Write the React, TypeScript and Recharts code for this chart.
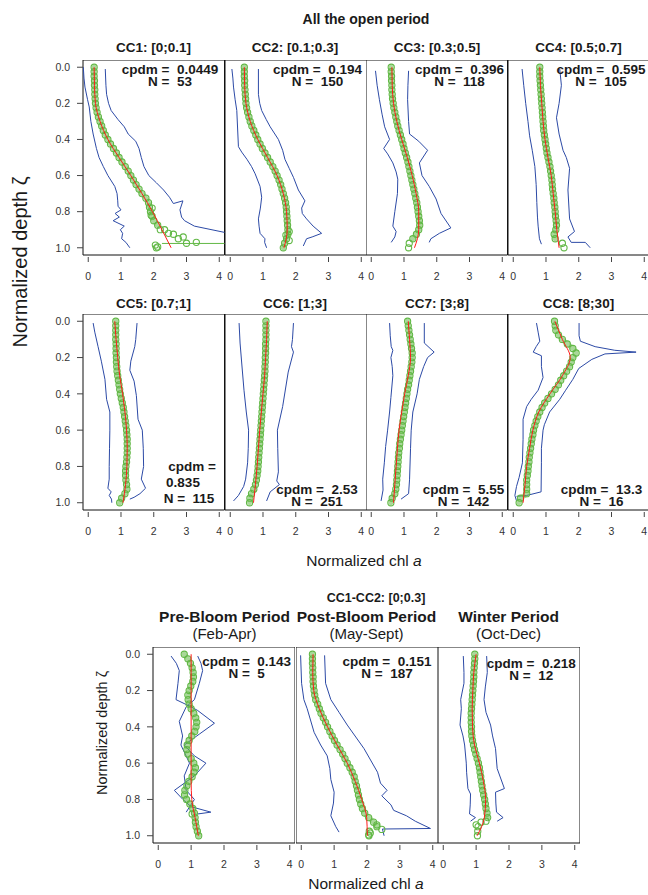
import { ScatterChart, Scatter, XAxis, YAxis, ReferenceArea } from "recharts";

const FONT = '"Liberation Sans", Arial, Helvetica, sans-serif';
const GREEN = "#62b846";
const RED = "#ff1a1a";
const BLUE = "#2c4aa6";

const X_TICKS = [0, 1, 2, 3, 4];
const Y_TICKS = [0, 0.2, 0.4, 0.6, 0.8, 1];

// depth grid of the mean profile (green circles)
const DEPTHS = [
  0, 0.025, 0.05, 0.075, 0.1, 0.125, 0.15, 0.175, 0.2, 0.225, 0.25, 0.275, 0.3, 0.325, 0.35, 0.375, 0.4, 0.425, 0.45, 0.475,
  0.5, 0.525, 0.55, 0.575, 0.6, 0.625, 0.65, 0.675, 0.7, 0.725, 0.75, 0.775, 0.8, 0.825, 0.85, 0.875, 0.9, 0.925, 0.95, 0.975, 1,
];
// depth grid of the fitted curve (red)
const FIT_DEPTHS = [0, 0.1, 0.2, 0.3, 0.4, 0.5, 0.6, 0.7, 0.8, 0.9, 1];

// ---- CC1
const cc1Green = [0.18, 0.18, 0.18, 0.19, 0.19, 0.2, 0.2, 0.21, 0.22, 0.24, 0.27, 0.31, 0.36, 0.41, 0.46, 0.52, 0.6, 0.68, 0.77, 0.86, 0.94, 1.03, 1.13, 1.22, 1.3, 1.38, 1.46, 1.55, 1.64, 1.76, 1.84, 1.87, 1.9, 1.95, 2.0, 2.12, 2.33, 2.6, 2.75, 3.0, 2.08];
const cc1Extra = [[3.3, 0.97], [2.05, 0.985], [2.12, 0.995], [2.9, 0.94], [2.45, 0.92], [2.2, 0.9], [1.95, 0.78], [1.92, 0.82]];
const cc1Red = [0.18, 0.19, 0.22, 0.36, 0.6, 0.94, 1.3, 1.64, 1.96, 2.25, 2.53];
const cc1Low = [[-0.15, 0], [-0.13, 0.06], [-0.1, 0.11], [-0.02, 0.18], [0.03, 0.22], [0.08, 0.3], [0.15, 0.37], [0.25, 0.45], [0.33, 0.5], [0.46, 0.55], [0.6, 0.6], [0.81, 0.66], [0.88, 0.7], [0.9, 0.74], [0.91, 0.77], [1.0, 0.79], [0.82, 0.81], [0.95, 0.83], [0.76, 0.85], [1.1, 0.88], [0.98, 0.9], [1.05, 0.92], [1.02, 0.95], [1.15, 0.97], [1.27, 1.0]];
const cc1High = [[0.52, 0.01], [0.54, 0.1], [0.56, 0.15], [0.62, 0.2], [0.7, 0.24], [0.91, 0.29], [1.1, 0.33], [1.22, 0.37], [1.45, 0.41], [1.55, 0.45], [1.62, 0.5], [1.7, 0.55], [1.85, 0.6], [2.08, 0.64], [2.3, 0.68], [2.48, 0.72], [2.6, 0.755], [2.89, 0.74], [2.8, 0.79], [2.85, 0.83], [2.94, 0.85], [3.24, 0.88], [4.3, 0.92]];
const cc1Tail = [[2.25, 0.976], [4.3, 0.976]];

// ---- CC2
const cc2Green = [0.43, 0.43, 0.43, 0.44, 0.44, 0.45, 0.46, 0.47, 0.48, 0.5, 0.53, 0.57, 0.61, 0.66, 0.72, 0.78, 0.84, 0.91, 0.98, 1.06, 1.14, 1.22, 1.3, 1.37, 1.43, 1.49, 1.54, 1.58, 1.62, 1.66, 1.69, 1.71, 1.72, 1.73, 1.74, 1.75, 1.76, 1.76, 1.72, 1.66, 1.62];
const cc2Extra = [[1.8, 0.91], [1.8, 0.96], [1.7, 0.93]];
const cc2Red = [0.43, 0.44, 0.48, 0.61, 0.84, 1.14, 1.43, 1.62, 1.72, 1.74, 1.64];
const cc2Low = [[0.05, 0.01], [0.08, 0.06], [0.1, 0.11], [0.15, 0.18], [0.2, 0.24], [0.22, 0.32], [0.25, 0.44], [0.35, 0.47], [0.51, 0.51], [0.65, 0.55], [0.76, 0.59], [0.91, 0.66], [0.96, 0.72], [0.92, 0.78], [0.86, 0.84], [0.88, 0.88], [0.91, 0.92], [1.06, 0.95], [1.05, 0.97], [1.11, 1.0]];
const cc2High = [[0.86, 0.01], [0.86, 0.15], [0.9, 0.2], [0.96, 0.24], [1.1, 0.29], [1.22, 0.33], [1.47, 0.4], [1.6, 0.46], [1.67, 0.51], [1.8, 0.56], [1.93, 0.61], [2.08, 0.68], [2.28, 0.74], [2.18, 0.78], [2.2, 0.81], [2.33, 0.84], [2.53, 0.88], [2.79, 0.92], [2.5, 0.94], [2.33, 0.95], [2.23, 0.99]];

// ---- CC3
const cc3Green = [0.61, 0.61, 0.62, 0.62, 0.63, 0.63, 0.64, 0.65, 0.67, 0.69, 0.72, 0.75, 0.78, 0.81, 0.85, 0.89, 0.93, 0.97, 1.0, 1.04, 1.08, 1.12, 1.15, 1.18, 1.21, 1.24, 1.27, 1.3, 1.33, 1.36, 1.39, 1.41, 1.43, 1.45, 1.47, 1.48, 1.45, 1.38, 1.27, 1.16, 1.14];
const cc3Red = [0.63, 0.64, 0.68, 0.78, 0.93, 1.1, 1.25, 1.37, 1.45, 1.45, 1.32];
const cc3Low = [[0.13, 0.02], [0.18, 0.1], [0.25, 0.18], [0.33, 0.26], [0.41, 0.33], [0.56, 0.4], [0.38, 0.45], [0.5, 0.48], [0.66, 0.53], [0.76, 0.58], [0.81, 0.62], [0.8, 0.7], [0.72, 0.8], [0.66, 0.88], [0.76, 0.91], [0.72, 0.94], [0.61, 0.97]];
const cc3High = [[1.14, 0.02], [1.12, 0.1], [1.11, 0.18], [1.14, 0.3], [1.17, 0.37], [1.45, 0.41], [1.72, 0.46], [1.47, 0.53], [1.55, 0.6], [1.77, 0.66], [1.98, 0.73], [2.13, 0.81], [2.43, 0.89], [2.08, 0.92], [1.82, 0.95], [1.77, 0.97]];

// ---- CC4
const cc4Green = [0.81, 0.81, 0.81, 0.82, 0.83, 0.84, 0.85, 0.86, 0.87, 0.88, 0.89, 0.9, 0.91, 0.92, 0.93, 0.95, 0.97, 0.99, 1.01, 1.03, 1.06, 1.09, 1.12, 1.14, 1.16, 1.18, 1.19, 1.2, 1.22, 1.24, 1.25, 1.27, 1.28, 1.29, 1.31, 1.32, 1.3, 1.25, 1.28, 1.5, 1.55];
const cc4Red = [0.81, 0.83, 0.87, 0.91, 0.97, 1.06, 1.16, 1.22, 1.28, 1.33, 1.4];
const cc4Low = [[0.27, 0.01], [0.32, 0.1], [0.38, 0.2], [0.45, 0.3], [0.5, 0.38], [0.58, 0.46], [0.66, 0.55], [0.7, 0.65], [0.72, 0.75], [0.74, 0.83], [0.76, 0.88], [0.8, 0.95], [0.86, 0.98]];
const cc4High = [[1.42, 0.01], [1.47, 0.1], [1.4, 0.2], [1.32, 0.28], [1.4, 0.37], [1.52, 0.46], [1.62, 0.5], [1.72, 0.56], [1.67, 0.68], [1.72, 0.84], [1.87, 0.91], [1.67, 0.94], [1.77, 0.97], [2.2, 0.97], [2.35, 1.0]];

// ---- CC5
const cc5Green = [0.84, 0.84, 0.84, 0.84, 0.84, 0.85, 0.85, 0.85, 0.86, 0.86, 0.87, 0.88, 0.9, 0.92, 0.94, 0.96, 0.98, 1.01, 1.04, 1.07, 1.09, 1.11, 1.13, 1.15, 1.17, 1.18, 1.19, 1.19, 1.19, 1.19, 1.18, 1.17, 1.15, 1.14, 1.14, 1.15, 1.17, 1.18, 1.12, 1.02, 0.96];
const cc5Red = [0.81, 0.85, 0.9, 0.96, 1.05, 1.12, 1.17, 1.19, 1.18, 1.14, 1.06];
const cc5Low = [[0.15, 0.01], [0.2, 0.06], [0.3, 0.14], [0.4, 0.22], [0.51, 0.32], [0.56, 0.43], [0.66, 0.5], [0.66, 0.6], [0.65, 0.7], [0.64, 0.8], [0.64, 0.87], [0.6, 0.92], [0.7, 0.94], [0.64, 0.96], [0.71, 0.98], [0.72, 1.0]];
const cc5High = [[1.49, 0.01], [1.45, 0.1], [1.42, 0.14], [1.3, 0.22], [1.27, 0.27], [1.4, 0.33], [1.47, 0.41], [1.52, 0.54], [1.65, 0.6], [1.68, 0.7], [1.69, 0.8], [1.62, 0.87], [1.75, 0.92], [1.58, 0.95], [1.4, 0.97], [1.27, 0.98]];

// ---- CC6
const cc6Green = [1.09, 1.09, 1.09, 1.09, 1.09, 1.08, 1.08, 1.08, 1.07, 1.07, 1.06, 1.06, 1.05, 1.04, 1.03, 1.02, 1.01, 1.0, 0.99, 0.98, 0.97, 0.96, 0.95, 0.94, 0.93, 0.92, 0.91, 0.9, 0.89, 0.88, 0.87, 0.86, 0.85, 0.84, 0.82, 0.8, 0.77, 0.72, 0.65, 0.6, 0.59];
const cc6Red = [1.13, 1.11, 1.08, 1.05, 1.0, 0.95, 0.9, 0.86, 0.82, 0.77, 0.71];
const cc6Low = [[0.27, 0.01], [0.3, 0.12], [0.35, 0.23], [0.42, 0.38], [0.49, 0.5], [0.56, 0.6], [0.55, 0.7], [0.53, 0.78], [0.47, 0.87], [0.41, 0.91], [0.25, 0.96], [0.1, 0.99]];
const cc6High = [[1.93, 0.01], [1.9, 0.1], [1.87, 0.14], [1.93, 0.17], [1.77, 0.28], [1.6, 0.47], [1.44, 0.6], [1.45, 0.7], [1.47, 0.83], [1.42, 0.88], [1.5, 0.9], [1.22, 0.94], [1.11, 0.99]];

// ---- CC7
const cc7Green = [1.11, 1.13, 1.15, 1.17, 1.19, 1.21, 1.23, 1.25, 1.25, 1.24, 1.22, 1.2, 1.18, 1.16, 1.14, 1.11, 1.09, 1.07, 1.05, 1.03, 1.01, 0.99, 0.97, 0.95, 0.93, 0.91, 0.89, 0.87, 0.86, 0.84, 0.83, 0.82, 0.81, 0.8, 0.79, 0.78, 0.77, 0.75, 0.72, 0.64, 0.6];
const cc7Red = [1.13, 1.17, 1.2, 1.13, 1.02, 0.93, 0.85, 0.8, 0.76, 0.72, 0.68];
const cc7Low = [[0.56, 0.01], [0.58, 0.08], [0.61, 0.14], [0.66, 0.16], [0.6, 0.2], [0.64, 0.25], [0.66, 0.3], [0.6, 0.42], [0.56, 0.5], [0.5, 0.6], [0.44, 0.69], [0.4, 0.78], [0.35, 0.87], [0.36, 0.93], [0.3, 0.99]];
const cc7High = [[1.62, 0.01], [1.62, 0.12], [1.92, 0.17], [1.72, 0.2], [1.6, 0.25], [1.47, 0.32], [1.4, 0.4], [1.27, 0.5], [1.22, 0.6], [1.2, 0.7], [1.17, 0.87], [1.14, 0.95], [0.91, 0.98]];

// ---- CC8
const cc8Green = [1.26, 1.28, 1.3, 1.38, 1.5, 1.65, 1.82, 1.92, 1.82, 1.77, 1.72, 1.63, 1.54, 1.45, 1.38, 1.28, 1.17, 1.06, 0.96, 0.88, 0.81, 0.75, 0.7, 0.66, 0.62, 0.6, 0.57, 0.55, 0.53, 0.51, 0.49, 0.48, 0.46, 0.45, 0.43, 0.41, 0.41, 0.41, 0.41, 0.22, 0.18];
const cc8Red = [1.27, 1.5, 1.74, 1.5, 1.12, 0.78, 0.6, 0.5, 0.41, 0.36, 0.3];
const cc8Low = [[0.71, 0.01], [0.76, 0.06], [0.81, 0.11], [0.7, 0.14], [0.61, 0.17], [0.86, 0.19], [0.86, 0.25], [0.91, 0.31], [0.76, 0.38], [0.55, 0.43], [0.41, 0.47], [0.3, 0.54], [0.3, 0.65], [0.28, 0.78], [0.18, 0.86], [0.1, 0.91], [0.05, 0.96], [0.1, 0.99]];
const cc8High = [[2.01, 0.01], [2.01, 0.08], [2.05, 0.11], [2.5, 0.14], [3.1, 0.16], [3.75, 0.17], [2.8, 0.18], [2.4, 0.21], [2.0, 0.26], [1.82, 0.32], [1.6, 0.38], [1.42, 0.43], [1.11, 0.5], [0.95, 0.57], [0.91, 0.6], [0.86, 0.7], [0.86, 0.78], [0.85, 0.94], [0.41, 0.96], [0.1, 0.965]];

// ---- CC1-CC2 by period
const preGreen = [0.79, 0.9, 0.98, 1.03, 1.06, 1.07, 1.05, 0.99, 0.94, 0.9, 0.91, 0.94, 1.0, 1.08, 1.14, 1.17, 1.15, 1.11, 1.02, 0.94, 0.88, 0.87, 0.9, 1.0, 1.08, 1.13, 1.09, 1.03, 0.93, 0.87, 0.81, 0.8, 0.86, 0.96, 1.05, 1.1, 1.12, 1.13, 1.15, 1.19, 1.23];
const preExtra = [[1.03, 0.88]];
const preRed = [1.0, 1.0, 1.0, 1.0, 1.0, 1.0, 1.0, 1.0, 1.02, 1.12, 1.22];
const preLow = [[0.39, 0.01], [0.55, 0.05], [0.64, 0.09], [0.6, 0.16], [0.54, 0.25], [1.0, 0.29], [1.2, 0.31], [1.71, 0.38], [1.25, 0.44], [0.79, 0.5], [1.1, 0.56], [1.45, 0.6], [1.1, 0.67], [0.49, 0.75], [0.75, 0.8], [1.0, 0.84], [1.6, 0.87], [1.2, 0.88]];
const preHigh = [[1.2, 0.01], [1.3, 0.05], [1.35, 0.09], [1.25, 0.16], [1.1, 0.25], [0.85, 0.29], [0.64, 0.37], [0.74, 0.45], [0.69, 0.5], [0.82, 0.55], [0.95, 0.6], [0.79, 0.67], [0.85, 0.75], [1.1, 0.8], [0.85, 0.87]];

const postGreen = [0.34, 0.34, 0.34, 0.35, 0.35, 0.36, 0.36, 0.37, 0.39, 0.41, 0.44, 0.5, 0.55, 0.6, 0.67, 0.74, 0.8, 0.87, 0.94, 1.01, 1.09, 1.18, 1.26, 1.33, 1.4, 1.48, 1.55, 1.61, 1.64, 1.68, 1.71, 1.74, 1.77, 1.81, 1.86, 1.93, 2.05, 2.2, 2.3, 2.07, 2.06];
const postExtra = [[2.45, 0.965], [2.1, 0.985], [2.05, 0.995], [2.3, 0.94]];
const postRed = [0.36, 0.35, 0.38, 0.55, 0.8, 1.09, 1.4, 1.64, 1.84, 1.99, 2.01];
const postLow = [[-0.02, 0.006], [0.01, 0.16], [0.08, 0.25], [0.18, 0.3], [0.39, 0.43], [0.59, 0.5], [0.79, 0.56], [0.87, 0.63], [0.9, 0.69], [1.0, 0.76], [0.98, 0.82], [0.9, 0.89], [1.0, 0.93], [1.05, 0.95], [1.15, 0.98]];
const postHigh = [[0.71, 0.006], [0.74, 0.16], [0.9, 0.25], [1.15, 0.32], [1.4, 0.39], [1.91, 0.52], [2.32, 0.65], [2.41, 0.71], [2.61, 0.75], [2.45, 0.78], [2.73, 0.83], [2.81, 0.86], [3.2, 0.89], [3.47, 0.92], [3.93, 0.96], [2.47, 0.963], [2.52, 1.0]];

const winterGreen = [0.96, 0.96, 0.95, 0.94, 0.93, 0.93, 0.92, 0.91, 0.9, 0.89, 0.88, 0.87, 0.86, 0.85, 0.85, 0.85, 0.86, 0.86, 0.87, 0.89, 0.92, 0.95, 0.99, 1.03, 1.07, 1.1, 1.12, 1.14, 1.16, 1.18, 1.2, 1.23, 1.26, 1.28, 1.3, 1.33, 1.35, 1.15, 1.06, 1.05, 1.04];
const winterExtra = [[1.3, 0.92], [1.0, 0.94]];
const winterRed = [1.0, 0.93, 0.9, 0.88, 0.89, 0.95, 1.1, 1.22, 1.29, 1.25, 1.03];
const winterLow = [[0.61, 0.01], [0.63, 0.1], [0.63, 0.16], [0.53, 0.25], [0.55, 0.3], [0.51, 0.39], [0.6, 0.45], [0.65, 0.5], [0.7, 0.6], [0.71, 0.65], [0.75, 0.74], [0.83, 0.77], [0.82, 0.83], [0.8, 0.88], [0.98, 0.9], [0.83, 0.92]];
const winterHigh = [[1.32, 0.01], [1.34, 0.1], [1.28, 0.18], [1.24, 0.25], [1.3, 0.32], [1.44, 0.39], [1.5, 0.45], [1.59, 0.52], [1.64, 0.63], [1.86, 0.74], [1.59, 0.76], [1.6, 0.82], [1.62, 0.87], [1.82, 0.9], [1.64, 0.92]];

type Pair = number[];

const onGrid = (xs: number[], grid: number[]) => xs.map((x, i) => ({ x, d: grid[i] }));
const fromPairs = (pairs: Pair[]) => pairs.map(([x, d]) => ({ x, d }));

function GreenDot(props: any) {
  const { cx, cy } = props;
  if (cx == null || cy == null) return <g />;
  return <circle cx={cx} cy={cy} r={3.1} fill="none" stroke={GREEN} strokeWidth={1.1} />;
}

function NoDot() {
  return <g />;
}

function XTick(props: any) {
  const { x, y, payload } = props;
  return (
    <g>
      <line x1={x} x2={x} y1={y + 2} y2={y + 7} stroke="#444" />
      <text x={x} y={y + 21} textAnchor="middle" dominantBaseline="central" fontSize={10.5} fill="#333" fontFamily={FONT}>
        {payload.value}
      </text>
    </g>
  );
}

interface PanelProps {
  left: number;
  top: number;
  width: number;
  height: number;
  withAxis?: boolean;
  green: number[];
  bandTo?: number;
  extra?: Pair[];
  red: number[];
  lo: Pair[];
  hi: Pair[];
  tail?: Pair[];
}

function Panel({ left, top, width, height, withAxis, green, bandTo = 1, extra, red, lo, hi, tail }: PanelProps) {
  const axisW = withAxis ? 42 : 0;
  const blueLine = { stroke: BLUE, strokeWidth: 1 };
  const mean = onGrid(green, DEPTHS);
  const band = mean.filter((p) => p.d <= bandTo);
  return (
    <div style={{ position: "absolute", left: left - axisW, top }}>
      <ScatterChart width={width + axisW} height={height + 30} margin={{ top: 0, right: 0, bottom: 0, left: 0 }}>
        <XAxis
          type="number"
          dataKey="x"
          domain={[-0.16, 4.16]}
          ticks={X_TICKS}
          interval={0}
          allowDataOverflow
          axisLine={false}
          tickLine={false}
          tickSize={0}
          tickMargin={0}
          height={30}
          tick={<XTick />}
        />
        <YAxis
          type="number"
          dataKey="d"
          domain={[-0.04, 1.04]}
          ticks={Y_TICKS}
          interval={0}
          reversed
          allowDataOverflow
          hide={!withAxis}
          width={axisW}
          axisLine={false}
          tickSize={6}
          tickMargin={7}
          tickLine={{ stroke: "#444" }}
          tick={{ fontSize: 10.5, fill: "#333", fontFamily: FONT }}
          tickFormatter={(v: number) => v.toFixed(1)}
        />
        <ReferenceArea x1={-0.16} x2={4.16} y1={-0.04} y2={1.04} fill="none" stroke="#111" strokeWidth={1} ifOverflow="visible" />
        <Scatter data={fromPairs(lo)} line={blueLine} shape={<NoDot />} isAnimationActive={false} />
        <Scatter data={fromPairs(hi)} line={blueLine} shape={<NoDot />} isAnimationActive={false} />
        {tail && <Scatter data={fromPairs(tail)} line={{ stroke: GREEN, strokeWidth: 1 }} shape={<NoDot />} isAnimationActive={false} />}
        {/* dense band of overlapping circles */}
        <Scatter
          data={band}
          line={{ stroke: GREEN, strokeWidth: 5, strokeOpacity: 0.55, strokeLinecap: "round" }}
          lineJointType="monotoneY"
          shape={<NoDot />}
          isAnimationActive={false}
        />
        <Scatter data={mean} shape={<GreenDot />} isAnimationActive={false} />
        {extra && <Scatter data={fromPairs(extra)} shape={<GreenDot />} isAnimationActive={false} />}
        <Scatter
          data={onGrid(red, FIT_DEPTHS)}
          line={{ stroke: RED, strokeWidth: 1 }}
          lineJointType="monotoneY"
          shape={<NoDot />}
          isAnimationActive={false}
        />
      </ScatterChart>
    </div>
  );
}

function Txt({ x, y, size, bold, rotate, children }: { x: number; y: number; size: number; bold?: boolean; rotate?: boolean; children: any }) {
  return (
    <div
      style={{
        position: "absolute",
        left: x,
        top: y,
        transform: `translate(-50%, -50%)${rotate ? " rotate(-90deg)" : ""}`,
        whiteSpace: "pre",
        textAlign: "center",
        fontFamily: FONT,
        fontSize: size,
        fontWeight: bold ? 700 : 400,
        lineHeight: "12px",
        color: "#1a1a1a",
      }}
    >
      {children}
    </div>
  );
}

const TOP_LEFTS = [83, 224.5, 366, 507.5];
const BOT_LEFTS = [153.3, 295.5, 437.6];
const TOP_W = 141.5;
const BOT_W = 142;

export default function App() {
  return (
    <div style={{ position: "absolute", left: 0, top: 0, width: 648, height: 895, background: "#fff", overflow: "hidden" }}>
      <Txt x={366} y={19} size={14} bold>All the open period</Txt>

      {/* row 1 */}
      <Txt x={153.5} y={48} size={13.5} bold>CC1: [0;0.1]</Txt>
      <Txt x={295} y={48} size={13.5} bold>CC2: [0.1;0.3]</Txt>
      <Txt x={437} y={48} size={13.5} bold>CC3: [0.3;0.5]</Txt>
      <Txt x={578.5} y={48} size={13.5} bold>CC4: [0.5;0.7]</Txt>
      <Panel left={TOP_LEFTS[0]} top={60} width={TOP_W} height={195} withAxis green={cc1Green} bandTo={0.875} extra={cc1Extra} red={cc1Red} lo={cc1Low} hi={cc1High} tail={cc1Tail} />
      <Panel left={TOP_LEFTS[1]} top={60} width={TOP_W} height={195} green={cc2Green} extra={cc2Extra} red={cc2Red} lo={cc2Low} hi={cc2High} />
      <Panel left={TOP_LEFTS[2]} top={60} width={TOP_W} height={195} green={cc3Green} bandTo={0.95} red={cc3Red} lo={cc3Low} hi={cc3High} />
      <Panel left={TOP_LEFTS[3]} top={60} width={TOP_W} height={195} green={cc4Green} bandTo={0.95} red={cc4Red} lo={cc4Low} hi={cc4High} />
      <Txt x={170} y={76} size={13.5} bold>{"cpdm =  0.0449\nN =  53"}</Txt>
      <Txt x={317.5} y={76} size={13.5} bold>{"cpdm =  0.194\nN =  150"}</Txt>
      <Txt x={459.5} y={76} size={13.5} bold>{"cpdm =  0.396\nN =  118"}</Txt>
      <Txt x={601} y={76} size={13.5} bold>{"cpdm =  0.595\nN =  105"}</Txt>

      {/* row 2 */}
      <Txt x={153.5} y={304} size={13.5} bold>CC5: [0.7;1]</Txt>
      <Txt x={295} y={304} size={13.5} bold>CC6: [1;3]</Txt>
      <Txt x={437} y={304} size={13.5} bold>CC7: [3;8]</Txt>
      <Txt x={578.5} y={304} size={13.5} bold>CC8: [8;30]</Txt>
      <Panel left={TOP_LEFTS[0]} top={314} width={TOP_W} height={196} withAxis green={cc5Green} red={cc5Red} lo={cc5Low} hi={cc5High} />
      <Panel left={TOP_LEFTS[1]} top={314} width={TOP_W} height={196} green={cc6Green} red={cc6Red} lo={cc6Low} hi={cc6High} />
      <Panel left={TOP_LEFTS[2]} top={314} width={TOP_W} height={196} green={cc7Green} red={cc7Red} lo={cc7Low} hi={cc7High} />
      <Panel left={TOP_LEFTS[3]} top={314} width={TOP_W} height={196} green={cc8Green} red={cc8Red} lo={cc8Low} hi={cc8High} />
      <Txt x={192} y={467} size={13.5} bold>cpdm =</Txt>
      <Txt x={183} y={483} size={13.5} bold>0.835</Txt>
      <Txt x={189} y={498.5} size={13.5} bold>N =  115</Txt>
      <Txt x={317} y={496} size={13.5} bold>{"cpdm =  2.53\nN =  251"}</Txt>
      <Txt x={463.5} y={496} size={13.5} bold>{"cpdm =  5.55\nN =  142"}</Txt>
      <Txt x={601.5} y={496} size={13.5} bold>{"cpdm =  13.3\nN =  16"}</Txt>

      <Txt x={20} y={262} size={20} rotate>Normalized depth ζ</Txt>
      <Txt x={364} y={561} size={15.5}>
        Normalized chl <i>a</i>
      </Txt>

      {/* row 3 */}
      <Txt x={376} y={598} size={12.5} bold>CC1-CC2: [0;0.3]</Txt>
      <Txt x={224.5} y={617} size={15.5} bold>Pre-Bloom Period</Txt>
      <Txt x={366.5} y={617} size={15.5} bold>Post-Bloom Period</Txt>
      <Txt x={508.6} y={617} size={15.5} bold>Winter Period</Txt>
      <Txt x={224.5} y={634} size={15}>(Feb-Apr)</Txt>
      <Txt x={366.5} y={634} size={15}>(May-Sept)</Txt>
      <Txt x={508.6} y={634} size={15}>(Oct-Dec)</Txt>
      <Panel left={BOT_LEFTS[0]} top={647} width={BOT_W} height={196} withAxis green={preGreen} extra={preExtra} red={preRed} lo={preLow} hi={preHigh} />
      <Panel left={BOT_LEFTS[1]} top={647} width={BOT_W} height={196} green={postGreen} bandTo={0.95} extra={postExtra} red={postRed} lo={postLow} hi={postHigh} />
      <Panel left={BOT_LEFTS[2]} top={647} width={BOT_W} height={196} green={winterGreen} bandTo={0.9} extra={winterExtra} red={winterRed} lo={winterLow} hi={winterHigh} />
      <Txt x={246.6} y={668} size={13.5} bold>{"cpdm =  0.143\nN =  5"}</Txt>
      <Txt x={387} y={668} size={13.5} bold>{"cpdm =  0.151\nN =  187"}</Txt>
      <Txt x={531.3} y={669.5} size={13.5} bold>{"cpdm =  0.218\nN =  12"}</Txt>

      <Txt x={101.5} y={733} size={14.5} rotate>Normalized depth ζ</Txt>
      <Txt x={366} y={884} size={15.5}>
        Normalized chl <i>a</i>
      </Txt>
    </div>
  );
}
